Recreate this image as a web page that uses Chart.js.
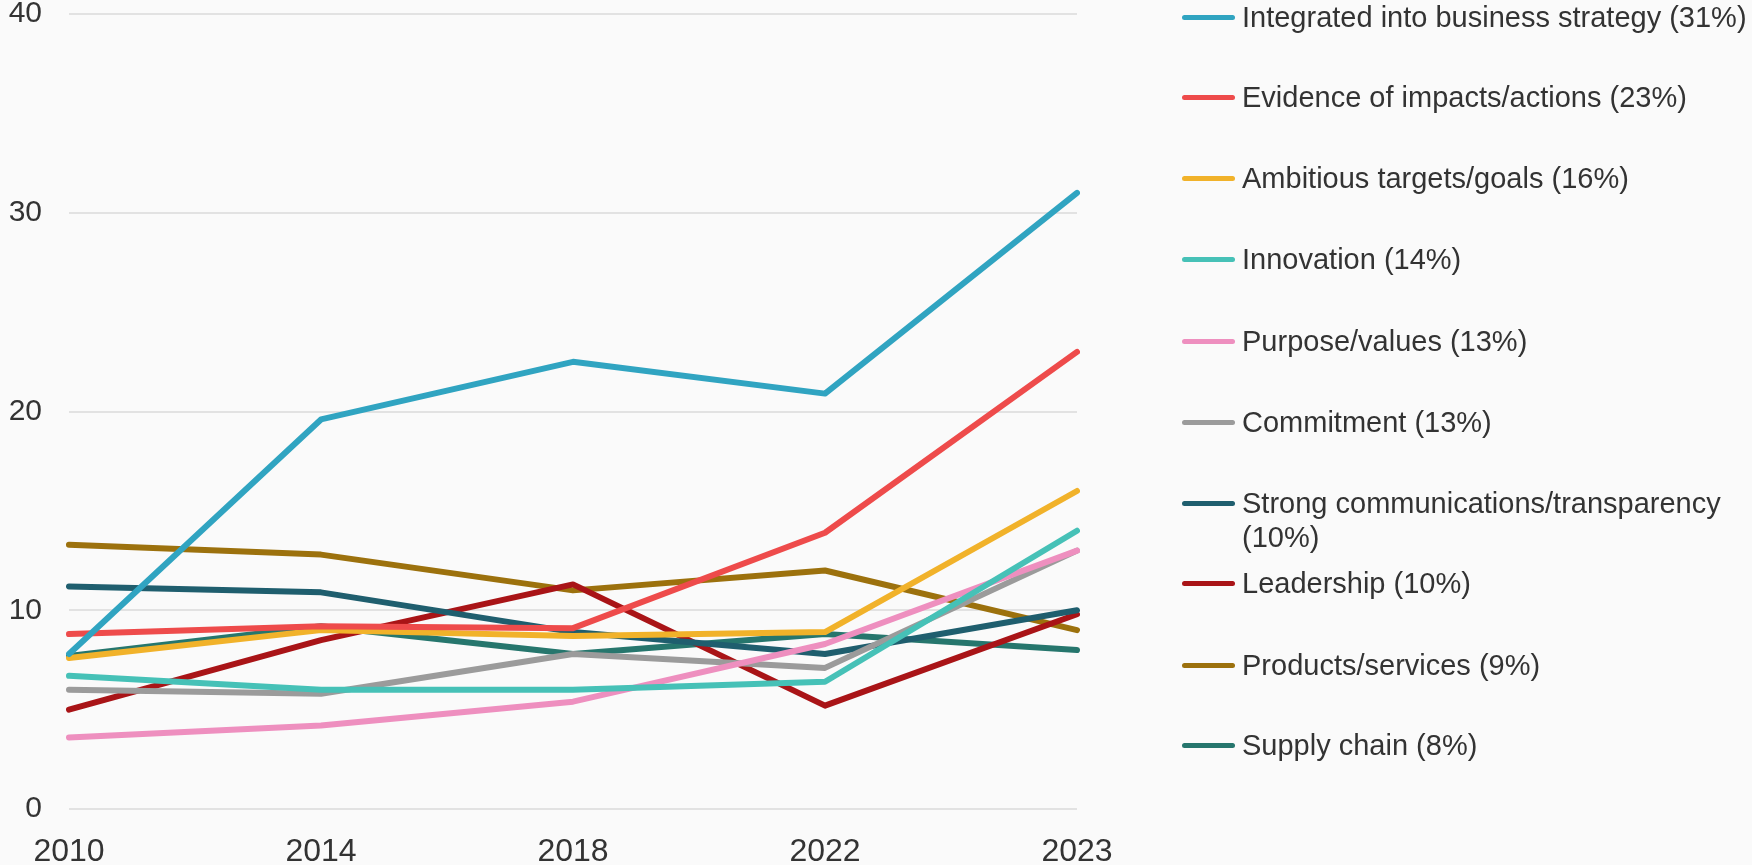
<!DOCTYPE html>
<html>
<head>
<meta charset="utf-8">
<script src="https://cdn.jsdelivr.net/npm/chart.js@4"></script>
<style>
  html, body { margin: 0; padding: 0; background: #fafafa; }
  #wrap { position: relative; width: 1752px; height: 865px; }
  #chart { position: absolute; left: 0; top: 0; }
  .item { position: absolute; left: 1182px; font: 29px 'Liberation Sans', Arial, sans-serif; line-height: 34.8px; color: #333; }
  .item .mark { position: absolute; left: 0; top: 15px; width: 53px; height: 5px; border-radius: 3px; }
  .item .txt { position: absolute; left: 60px; width: 512px; }
</style>
</head>
<body>
<div id="wrap">
  <canvas id="chart" width="1752" height="865"></canvas>
  <div id="legend"></div>
</div>
<script>
const years = ['2010', '2014', '2018', '2022', '2023'];

const labels = [
    'Integrated into business strategy (31%)',
    'Evidence of impacts/actions (23%)',
    'Ambitious targets/goals (16%)',
    'Innovation (14%)',
    'Purpose/values (13%)',
    'Commitment (13%)',
    'Strong communications/transparency (10%)',
    'Leadership (10%)',
    'Products/services (9%)',
    'Supply chain (8%)'
];

const integrated = [7.8, 19.6, 22.5, 20.9, 31];
const evidence = [8.8, 9.2, 9.1, 13.9, 23];
const ambitious = [7.6, 9.0, 8.7, 8.9, 16];
const innovation = [6.7, 6.0, 6.0, 6.4, 14];
const purpose = [3.6, 4.2, 5.4, 8.3, 13];
const commitment = [6.0, 5.8, 7.8, 7.1, 13];
const communications = [11.2, 10.9, 8.9, 7.8, 10];
const leadership = [5.0, 8.5, 11.3, 5.2, 9.8];
const products = [13.3, 12.8, 11.0, 12.0, 9.0];
const supplyChain = [7.7, 9.2, 7.8, 8.8, 8.0];

const series = [integrated, evidence, ambitious, innovation, purpose,
    commitment, communications, leadership, products, supplyChain];

const colors = [
    '#30a4c1', // blue
    '#ee4b4b', // red
    '#f1b22a', // yellow
    '#46c1b7', // turquoise
    '#ee8fbf', // pink
    '#9b9b9b', // grey
    '#1f5e6e', // dark blue
    '#a91417', // dark red
    '#9c710d', // brown
    '#26766d'  // dark teal
];

const yTicks = [0, 10, 20, 30, 40];

const font = "'Liberation Sans', Arial, sans-serif";

// legend on the right, one slot per series
const legendTops = [17, 97, 178, 259, 341, 422, 503, 583, 665, 745];
const legend = document.getElementById('legend');
labels.forEach(function (label, i) {
    const item = document.createElement('div');
    item.className = 'item';
    item.style.top = (legendTops[i] - 17.4) + 'px';
    const mark = document.createElement('span');
    mark.className = 'mark';
    mark.style.background = colors[i];
    const txt = document.createElement('span');
    txt.className = 'txt';
    txt.textContent = label;
    item.appendChild(mark);
    item.appendChild(txt);
    legend.appendChild(item);
});

const ctx = document.getElementById('chart').getContext('2d');

new Chart(ctx, {
    type: 'line',
    data: {
        labels: years,
        datasets: series.map(function (values, i) {
            return {
                label: labels[i],
                data: values,
                borderColor: colors[i],
                backgroundColor: colors[i],
                borderWidth: 6,
                borderCapStyle: 'round',
                borderJoinStyle: 'round',
                pointRadius: 0,
                tension: 0
            };
        })
    },
    options: {
        responsive: false,
        animation: false,
        layout: {
            padding: {left: 0, right: 675, top: 14, bottom: 0}
        },
        plugins: {
            legend: {display: false},
            tooltip: {enabled: false}
        },
        scales: {
            x: {
                afterFit: function (scale) {
                    scale.height = 56;
                    scale.paddingLeft = 0;
                    scale.paddingRight = 0;
                },
                grid: {display: false},
                border: {display: false},
                ticks: {
                    color: '#333',
                    padding: 16,
                    maxRotation: 0,
                    font: {family: font, size: 32, lineHeight: 1.2}
                }
            },
            y: {
                min: 0,
                max: 40,
                afterFit: function (scale) {
                    scale.width = 69;
                    scale.paddingTop = 0;
                    scale.paddingBottom = 0;
                },
                afterBuildTicks: function (scale) {
                    scale.ticks = yTicks.map(v => ({value: v}));
                },
                grid: {color: '#e2e2e2', lineWidth: 2, drawTicks: false},
                border: {display: false},
                ticks: {
                    color: '#333',
                    padding: 27,
                    font: {family: font, size: 30, lineHeight: 1}
                }
            }
        }
    }
});
</script>
</body>
</html>
